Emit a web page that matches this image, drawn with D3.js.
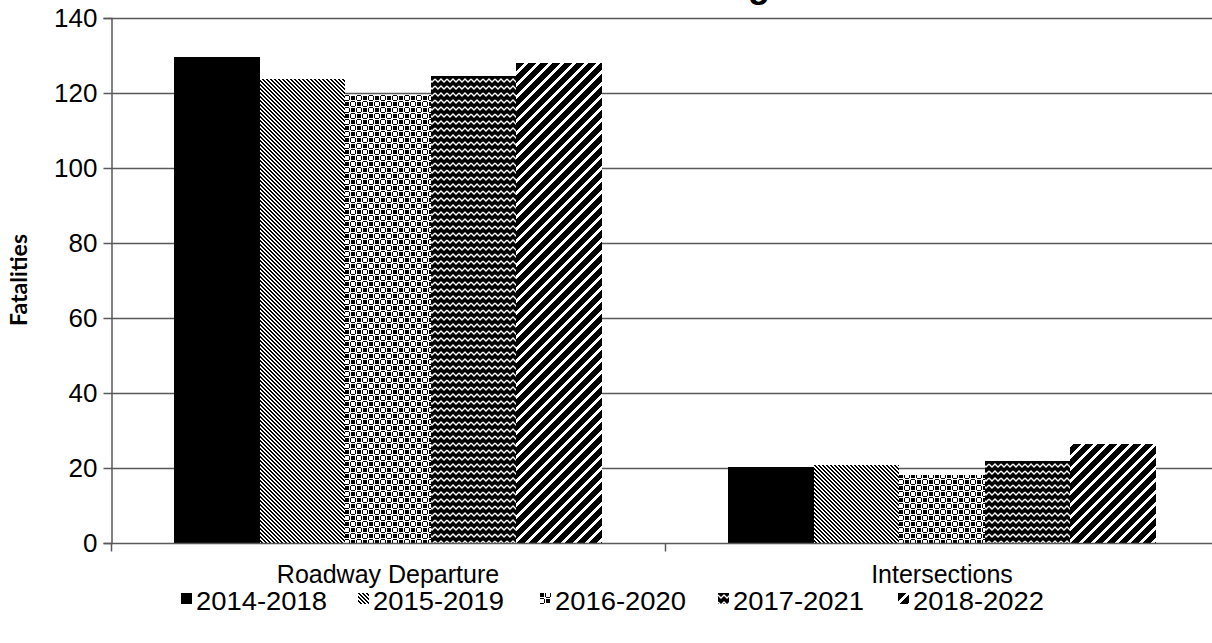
<!DOCTYPE html>
<html>
<head>
<meta charset="utf-8">
<script src="https://cdn.jsdelivr.net/npm/d3@7"></script>
<style>
  html, body { margin: 0; padding: 0; background: #fff; overflow: hidden; }
  svg { display: block; }
  text { font-family: "Liberation Sans", Arial, sans-serif; fill: #000; }
</style>
</head>
<body>
<svg id="chart" width="1212" height="643"></svg>
<script>
// ---- data ----
const categories = ["Roadway Departure", "Intersections"];
const seriesNames = ["2014-2018", "2015-2019", "2016-2020", "2017-2021", "2018-2022"];
const roadwayDeparture = [129.6, 123.7, 119.5, 124.5, 128.0];
const intersections = [20.4, 20.8, 18.2, 22.0, 26.4];
const yTicks = [0, 20, 40, 60, 80, 100, 120, 140];
const chartTitle = "Fatal Crash Trending";
const yTitle = "Fatalities";

const valuesByCategory = [roadwayDeparture, intersections];

// ---- layout ----
const svg = d3.select("#chart");
const plot = { left: 111, right: 1219, top: 18, bottom: 543 };

const x0 = d3.scaleBand().domain(categories).range([plot.left, plot.right]).paddingInner(0).paddingOuter(0);
const x1 = d3.scaleBand().domain(seriesNames).range([0, x0.bandwidth()]).paddingInner(0).paddingOuter(0.743);
const y = d3.scaleLinear().domain([0, 140]).range([plot.bottom, plot.top]);

// ---- fill patterns (pixel tiles) ----
const defs = svg.append("defs");
function pixelPattern(id, w, h, bg, fg, rects) {
  const p = defs.append("pattern").attr("id", id)
    .attr("patternUnits", "userSpaceOnUse").attr("width", w).attr("height", h);
  p.append("rect").attr("width", w).attr("height", h).attr("fill", bg);
  rects.forEach(r => p.append("rect").attr("x", r[0]).attr("y", r[1])
    .attr("width", r[2]).attr("height", r[3]).attr("fill", fg)
    .attr("shape-rendering", "crispEdges"));
  return "url(#" + id + ")";
}
// diagonal stripes: each row shifts by one pixel
function stripeRects(period, run, dir) {
  const out = [];
  for (let r = 0; r < period; r++) {
    const start = ((dir > 0 ? r : -r) % period + period) % period;
    for (let k = 0; k < run; k++) out.push([(start + k) % period, r, 1, 1]);
  }
  return out;
}
// thin downward diagonal
const fill2 = pixelPattern("p2", 4, 4, "#fff", "#000", stripeRects(4, 2, 1));
// squares ringed by short dashes
const fill3 = pixelPattern("p3", 12, 12, "#fff", "#000", [
  [0, 0, 4, 4], [6, 6, 4, 4],
  [0, 10, 4, 1], [0, 5, 4, 1], [10, 0, 1, 4], [5, 0, 1, 4],
  [6, 4, 4, 1], [6, 11, 4, 1], [4, 6, 1, 4], [11, 6, 1, 4]
]);
// zigzag waves: white lines over black
const p4 = defs.append("pattern").attr("id", "p4")
  .attr("patternUnits", "userSpaceOnUse").attr("width", 12).attr("height", 7);
p4.append("rect").attr("width", 12).attr("height", 7).attr("fill", "#000");
p4.append("path").attr("d", "M0,2 L3,5 L6,2 L9,5 L12,2").attr("fill", "none")
  .attr("stroke", "#fff").attr("stroke-width", 1.3);
const fill4 = "url(#p4)";
// wide upward diagonal
const fill5 = pixelPattern("p5", 12, 12, "#fff", "#000", stripeRects(12, 8, -1));

const fills = ["#000", fill2, fill3, fill4, fill5];

// ---- gridlines ----
const grid = svg.append("g");
grid.selectAll("line").data(yTicks.filter(d => d > 0)).join("line")
  .attr("x1", plot.left).attr("x2", plot.right)
  .attr("y1", d => Math.round(y(d)) + 0.5).attr("y2", d => Math.round(y(d)) + 0.5)
  .attr("stroke", "#595959").attr("stroke-width", 1.5);

// ---- bars ----
const groups = svg.append("g").selectAll("g").data(categories).join("g")
  .attr("transform", d => `translate(${x0(d)},0)`);
groups.selectAll("rect")
  .data((c, i) => seriesNames.map((s, j) => ({ s, j, v: valuesByCategory[i][j] })))
  .join("rect")
  .attr("x", d => x1(d.s)).attr("width", x1.bandwidth())
  .attr("y", d => y(d.v)).attr("height", d => y(0) - y(d.v))
  .attr("fill", d => fills[d.j])
  .attr("shape-rendering", "crispEdges");

// ---- axes ----
const yAxis = d3.axisLeft(y).tickValues(yTicks).tickSize(8).tickPadding(6);
const gy = svg.append("g").attr("transform", `translate(${plot.left + 0.5},0)`).call(yAxis);
gy.select(".domain").attr("stroke", "#595959").attr("stroke-width", 1.5);
gy.selectAll(".tick line").attr("stroke", "#595959").attr("stroke-width", 1.5);
gy.selectAll(".tick text").attr("font-size", 26).attr("font-family", "Liberation Sans, Arial, sans-serif")
  .attr("fill", "#000");

// category axis: boundary ticks between categories
const xAxisG = svg.append("g").attr("transform", `translate(0,${plot.bottom + 0.5})`);
xAxisG.append("line").attr("x1", plot.left).attr("x2", plot.right).attr("stroke", "#595959").attr("stroke-width", 1.5);
const bounds = categories.map(c => x0(c)).concat([x0(categories[categories.length - 1]) + x0.bandwidth()]);
xAxisG.selectAll("line.tk").data(bounds).join("line").attr("class", "tk")
  .attr("x1", d => d + 0.5).attr("x2", d => d + 0.5).attr("y1", 0).attr("y2", 8)
  .attr("stroke", "#595959").attr("stroke-width", 1.5);
xAxisG.selectAll("text").data(categories).join("text")
  .attr("x", d => x0(d) + x0.bandwidth() / 2).attr("y", 39)
  .attr("text-anchor", "middle").attr("font-size", 25).text(d => d);

// ---- titles ----
svg.append("text").attr("x", 770).attr("y", -3).attr("text-anchor", "end")
  .attr("font-size", 36).attr("font-weight", "bold").text(chartTitle);
svg.append("text").attr("transform", "translate(27,280) rotate(-90)")
  .attr("text-anchor", "middle").attr("font-size", 23).attr("font-weight", "bold")
  .style("font-family", "Lato, 'Liberation Sans', sans-serif").text(yTitle);

// ---- legend ----
const legendX = [181, 358, 540, 718, 898];
const lg = svg.append("g").selectAll("g").data(seriesNames).join("g")
  .attr("transform", (d, i) => `translate(${legendX[i]},593)`);
lg.append("rect").attr("width", 11).attr("height", 11).attr("fill", (d, i) => fills[i])
  .attr("shape-rendering", "crispEdges");
lg.append("text").attr("x", 15).attr("y", 17).attr("font-size", 25)
  .attr("textLength", 131).attr("lengthAdjust", "spacingAndGlyphs").text(d => d);
</script>
</body>
</html>
